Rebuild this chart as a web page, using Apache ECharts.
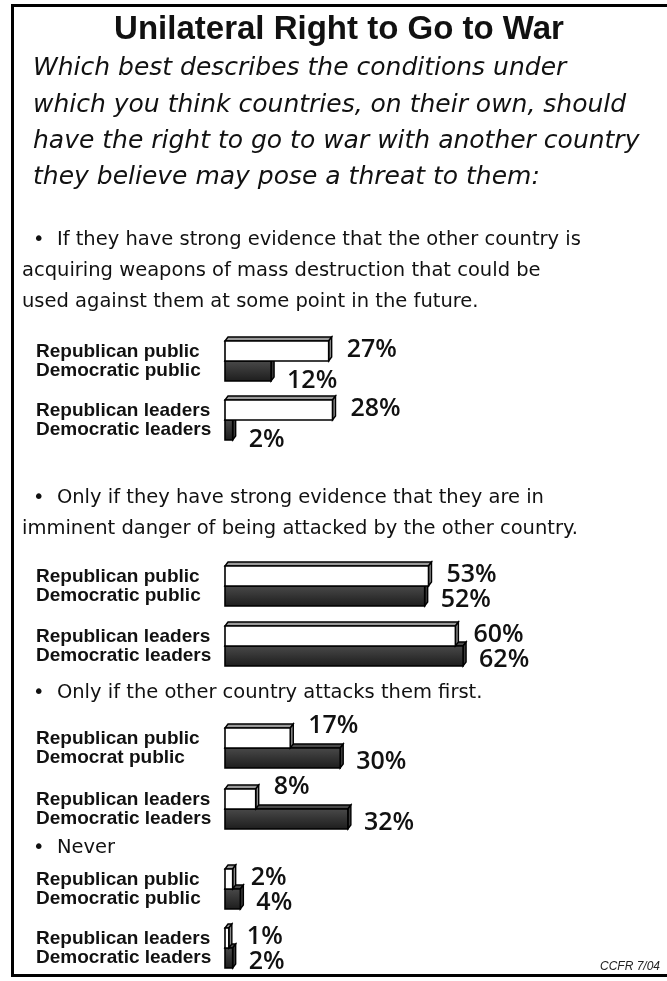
<!DOCTYPE html>
<html><head><meta charset="utf-8">
<script src="https://cdn.jsdelivr.net/npm/echarts@6/dist/echarts.min.js"></script>
<style>html,body{margin:0;padding:0;background:#fff}#c{width:667px;height:981px}</style>
</head><body><div id="c"></div>
<script>
// ---- data ----
const titleText = 'Unilateral Right to Go to War';
const questionLines = [
  'Which best describes the conditions under',
  'which you think countries, on their own, should',
  'have the right to go to war with another country',
  'they believe may pose a threat to them:'
];
const section1Text = ['•  If they have strong evidence that the other country is',
  'acquiring weapons of mass destruction that could be',
  'used against them at some point in the future.'];
const section2Text = ['•  Only if they have strong evidence that they are in',
  'imminent danger of being attacked by the other country.'];
const section3Text = ['•  Only if the other country attacks them first.'];
const section4Text = ['•  Never'];
const groupsA = ['Republican public\nDemocratic public', 'Republican leaders\nDemocratic leaders'];
const groupsB = ['Republican public\nDemocrat public', 'Republican leaders\nDemocratic leaders'];
const s1Rep = [27, 28], s1Dem = [12, 2];
const s2Rep = [53, 60], s2Dem = [52, 62];
const s3Rep = [17, 8],  s3Dem = [30, 32];
const s4Rep = [2, 1],   s4Dem = [4, 2];
const sourceText = 'CCFR 7/04';

// ---- layout ----
const sections = [
  {rep: s1Rep, dem: s1Dem, cats: groupsA, top: 331.5, h: 118},
  {rep: s2Rep, dem: s2Dem, cats: groupsA, top: 556, h: 120},
  {rep: s3Rep, dem: s3Dem, cats: groupsB, top: 717.5, h: 122},
  {rep: s4Rep, dem: s4Dem, cats: groupsA, top: 859.5, h: 118}
];
const BAR_H = 20, DX = 3, DY = 4;
const SANS = '"Liberation Sans", Arial, sans-serif';
const DEJA = '"DejaVu Sans", sans-serif';

function makeRender(isRep, other) {
  return function (params, api) {
    const v = api.value(0), c = api.value(1);
    const p0 = api.coord([0, c]), p1 = api.coord([v, c]);
    const x0 = p0[0], x1 = p1[0];
    const y0 = isRep ? p0[1] - BAR_H : p0[1];
    const y1 = y0 + BAR_H;
    const o = other[params.dataIndex];
    const frontFill = isRep ? '#ffffff' : new echarts.graphic.LinearGradient(0, 0, 0, 1, [
      {offset: 0, color: '#4a4a4a'}, {offset: 1, color: '#1c1c1c'}]);
    const topFill = isRep ? '#9a9a9a' : '#4a4a4a';
    const sideFill = isRep ? '#8a8a8a' : '#3a3a3a';
    let dyLabel;
    if (isRep) dyLabel = (o > v + 5) ? -12 : -1;
    else dyLabel = (o > v + 5) ? 10 : 4;
    return {
      type: 'group',
      children: [
        {type: 'polygon', shape: {points: [[x0, y0], [x0 + DX, y0 - DY], [x1 + DX, y0 - DY], [x1, y0]]},
          style: {fill: topFill, stroke: '#000', lineWidth: 1.4}},
        {type: 'polygon', shape: {points: [[x1, y0], [x1 + DX, y0 - DY], [x1 + DX, y1 - DY], [x1, y1]]},
          style: {fill: sideFill, stroke: '#000', lineWidth: 1.4}},
        {type: 'rect', shape: {x: x0, y: y0, width: Math.max(x1 - x0, 1), height: BAR_H},
          style: {fill: frontFill, stroke: '#000', lineWidth: 1.6}},
        {type: 'text', style: {text: v + '%', x: x1 + DX + (isRep ? 15 : 13), y: (y0 + y1) / 2 + dyLabel,
          fill: '#111', fontSize: 25, fontWeight: 600, fontFamily: '"Open Sans", sans-serif',
          verticalAlign: 'middle', align: 'left'}}
      ]
    };
  };
}

const grid = [], xAxis = [], yAxis = [], series = [];
sections.forEach((s, i) => {
  grid.push({left: 225, width: 384, top: s.top, height: s.h});
  xAxis.push({gridIndex: i, type: 'value', min: 0, max: 100, show: false});
  yAxis.push({gridIndex: i, type: 'category', data: s.cats, inverse: true,
    axisLine: {show: false}, axisTick: {show: false}, splitLine: {show: false},
    axisLabel: {align: 'left', margin: 189, fontSize: 19, fontWeight: 'bold', lineHeight: 19,
      color: '#111', fontFamily: SANS}});
  series.push({type: 'custom', xAxisIndex: i, yAxisIndex: i, z: 2,
    renderItem: makeRender(false, s.rep), data: s.dem.map((v, k) => [v, k]), encode: {x: 0, y: 1}});
  series.push({type: 'custom', xAxisIndex: i, yAxisIndex: i, z: 3,
    renderItem: makeRender(true, s.dem), data: s.rep.map((v, k) => [v, k]), encode: {x: 0, y: 1}});
});

const graphic = [];
graphic.push({type: 'polyline', shape: {points: [[667, 5.5], [12.5, 5.5], [12.5, 975.5], [667, 975.5]]},
  style: {stroke: '#000', lineWidth: 3, fill: null}});
graphic.push({type: 'text', style: {text: titleText, x: 339, y: 30, align: 'center', verticalAlign: 'middle',
  fontSize: 33, fontWeight: 'bold', fontFamily: SANS, fill: '#111'}});
const qY = [68, 105, 141, 177];
questionLines.forEach((t, i) => graphic.push({type: 'text', style: {text: t, x: 33, y: qY[i], verticalAlign: 'middle',
  fontSize: 25, fontStyle: 'italic', fontFamily: DEJA, fill: '#111'}}));
function addLines(lines, ys) {
  lines.forEach((t, i) => graphic.push({type: 'text', style: {text: t, x: i === 0 ? 33 : 22, y: ys[i], verticalAlign: 'middle',
    fontSize: 19.5, fontFamily: DEJA, fill: '#111'}}));
}
addLines(section1Text, [240, 271, 302]);
addLines(section2Text, [498, 529]);
addLines(section3Text, [693]);
addLines(section4Text, [848]);
graphic.push({type: 'text', style: {text: sourceText, x: 660, y: 967, align: 'right', verticalAlign: 'middle',
  fontSize: 12, fontStyle: 'italic', fontFamily: SANS, fill: '#222'}});

const chart = echarts.init(document.getElementById('c'), null, {renderer: 'canvas'});
chart.setOption({animation: false, backgroundColor: '#fff', grid, xAxis, yAxis, series, graphic});
</script></body></html>
